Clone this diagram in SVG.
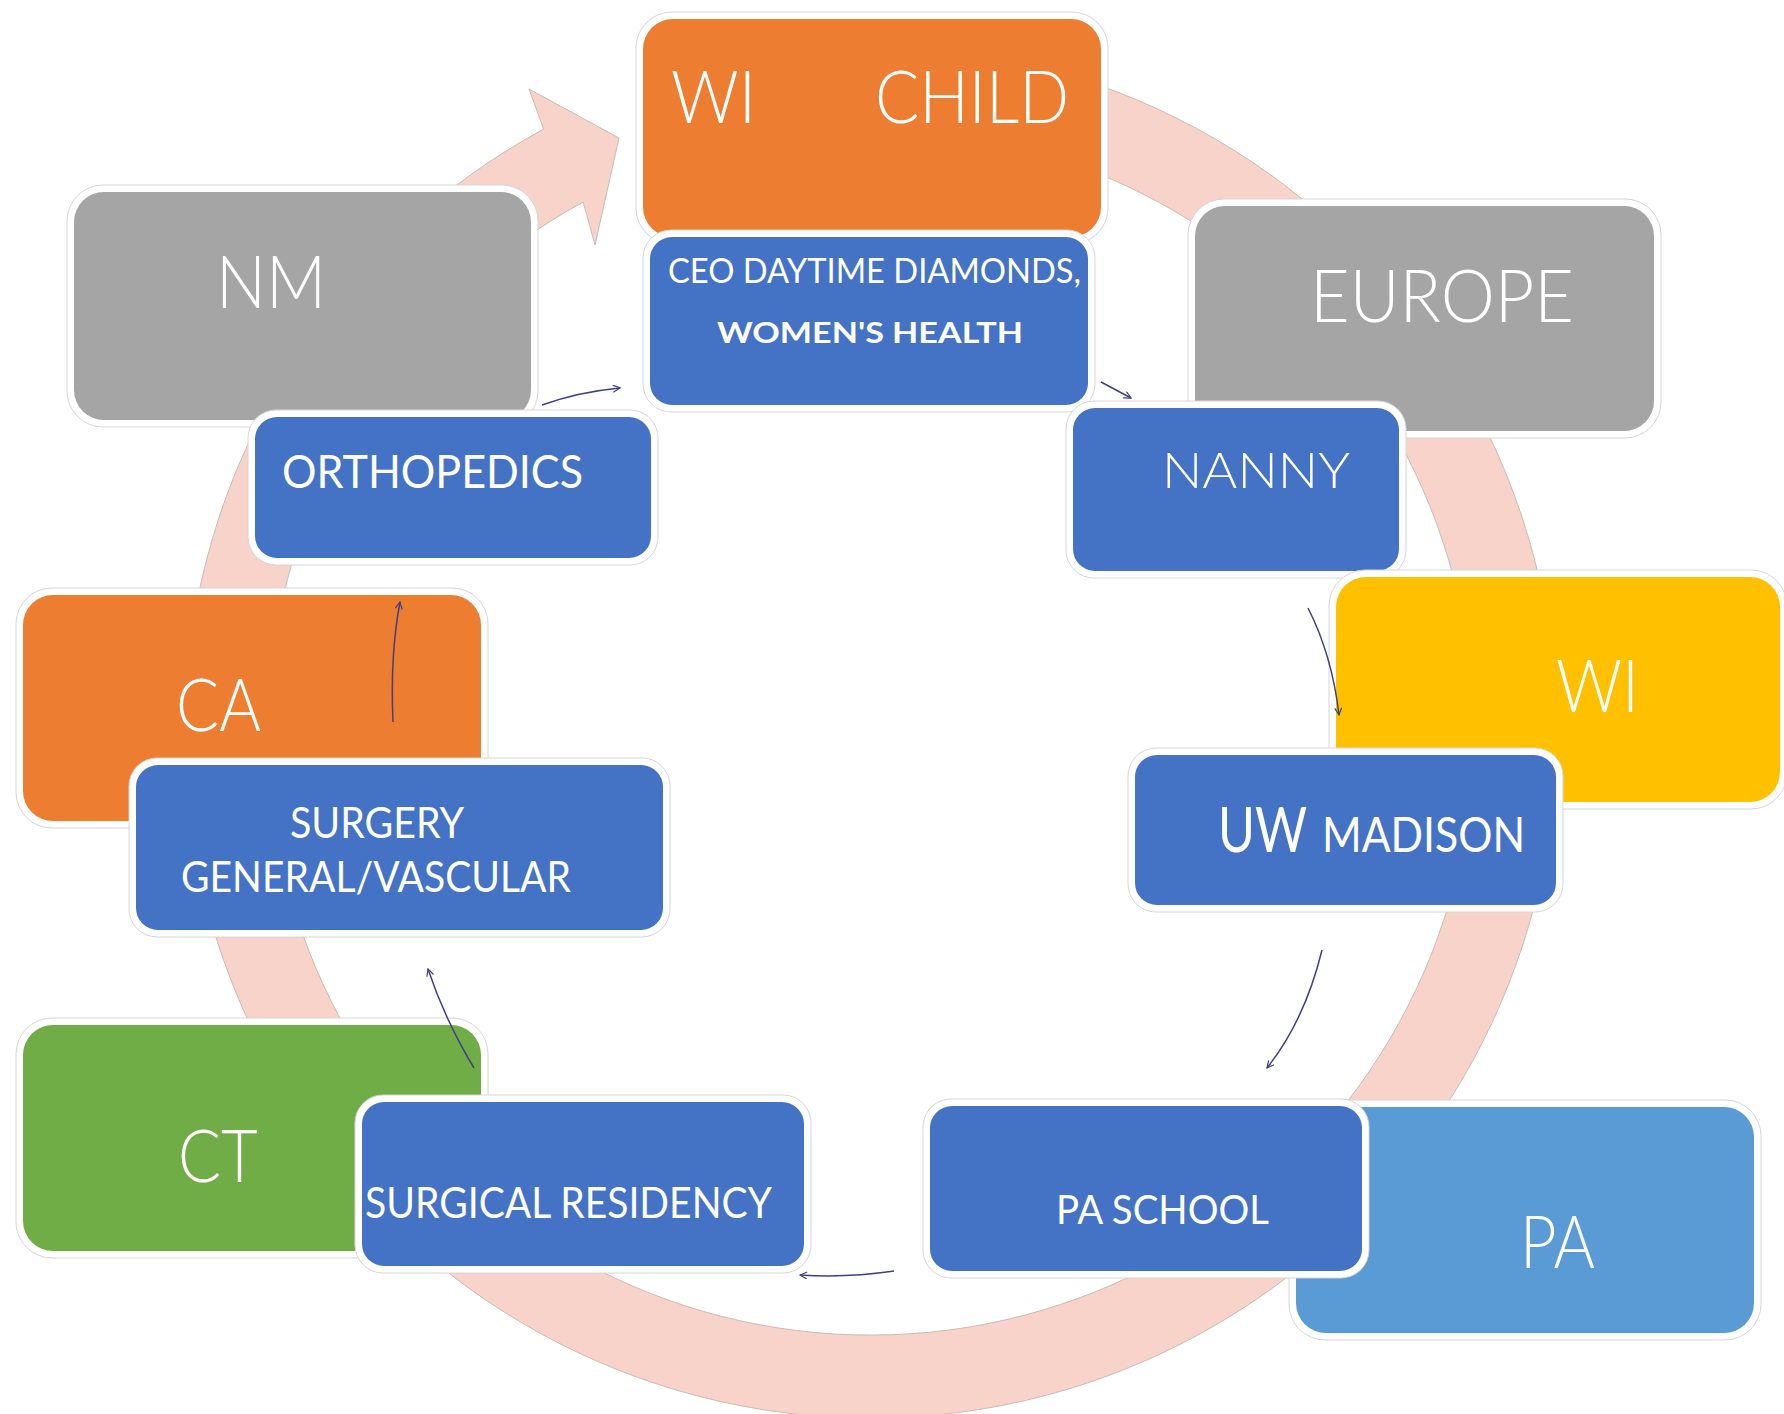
<svg xmlns="http://www.w3.org/2000/svg" width="1784" height="1414" viewBox="0 0 1784 1414">
<defs>
<style>
.frame{fill:#ffffff;stroke:#d6d6d6;stroke-width:1}
.orange{fill:#ED7D31}
.blue{fill:#4472C4}
.gray{fill:#A5A5A5}
.yellow{fill:#FFC000}
.green{fill:#70AD47}
.lblue{fill:#5B9BD5}
.big{font-family:Lato,"Open Sans","Liberation Sans",sans-serif;font-weight:300;font-size:72px;fill:#ffffff}
.lab{font-family:Lato,"Open Sans","Liberation Sans",sans-serif;font-weight:400;fill:#ffffff}
.bold{font-weight:700}
.conn{fill:none;stroke:#3f3f88;stroke-width:1.5}
.ring{fill:#f7d3c9;stroke:#cdbab3;stroke-width:1}
</style>
<marker id="ah" markerWidth="10" markerHeight="10" refX="8" refY="4" orient="auto" markerUnits="userSpaceOnUse">
<path d="M1,0.5 L8,4 L1,7.5" fill="none" stroke="#3f3f88" stroke-width="1.2"/>
</marker>
</defs>
<rect width="1784" height="1414" fill="#ffffff"/>

<g id="cycle-arrow">
<path class="ring" d="M693.5,69.4 A686,686 0 1 1 543.6,129.1 L529,89 L619,138 L595,245 L583.2,202.1 A603,603 0 1 0 714.9,149.6 Z"/>
</g>

<g id="node-wi-child">
<rect class="frame" x="636" y="12" width="472" height="232" rx="36"/>
<rect class="orange" x="643" y="19" width="458" height="218" rx="30"/>
<text class="big" x="671" y="123" textLength="85" lengthAdjust="spacingAndGlyphs">WI</text>
<text class="big" x="875" y="123" textLength="194" lengthAdjust="spacingAndGlyphs">CHILD</text>
</g>
<g id="node-ceo">
<rect class="frame" x="643" y="230" width="452" height="182" rx="28"/>
<rect class="blue" x="650" y="237" width="438" height="168" rx="22"/>
<text class="lab" x="668" y="283" font-size="35" textLength="413" lengthAdjust="spacingAndGlyphs">CEO DAYTIME DIAMONDS,</text>
<text class="lab bold" x="717" y="343" font-size="29" textLength="306" lengthAdjust="spacingAndGlyphs">WOMEN'S HEALTH</text>
</g>

<g id="node-nm">
<rect class="frame" x="67" y="185" width="471" height="242" rx="36"/>
<rect class="gray" x="74" y="192" width="457" height="228" rx="30"/>
<text class="big" x="216" y="308" textLength="110" lengthAdjust="spacingAndGlyphs">NM</text>
</g>
<g id="node-orthopedics">
<rect class="frame" x="248" y="410" width="410" height="155" rx="28"/>
<rect class="blue" x="255" y="417" width="396" height="141" rx="22"/>
<text class="lab" x="282" y="488" font-size="46" textLength="301" lengthAdjust="spacingAndGlyphs">ORTHOPEDICS</text>
</g>

<g id="node-europe">
<rect class="frame" x="1188" y="199" width="473" height="239" rx="36"/>
<rect class="gray" x="1195" y="206" width="459" height="225" rx="30"/>
<text class="big" x="1310" y="322" textLength="264" lengthAdjust="spacingAndGlyphs">EUROPE</text>
</g>
<g id="node-nanny">
<rect class="frame" x="1066" y="401" width="340" height="177" rx="28"/>
<rect class="blue" x="1073" y="408" width="326" height="163" rx="22"/>
<text class="lab" x="1162" y="488" font-size="50" font-weight="300" style="font-weight:300" textLength="188" lengthAdjust="spacingAndGlyphs">NANNY</text>
</g>

<g id="node-wi">
<rect class="frame" x="1329" y="570" width="458" height="239" rx="36"/>
<rect class="yellow" x="1336" y="577" width="444" height="225" rx="30"/>
<text class="big" x="1556" y="712" textLength="83" lengthAdjust="spacingAndGlyphs">WI</text>
</g>
<g id="node-uw-madison">
<rect class="frame" x="1128" y="748" width="435" height="164" rx="28"/>
<rect class="blue" x="1135" y="755" width="421" height="150" rx="22"/>
<text class="lab" x="1218" y="852" font-size="61" textLength="89" lengthAdjust="spacingAndGlyphs">UW</text>
<text class="lab" x="1322" y="852" font-size="49" textLength="203" lengthAdjust="spacingAndGlyphs">MADISON</text>
</g>

<g id="node-ca">
<rect class="frame" x="16" y="588" width="472" height="240" rx="36"/>
<rect class="orange" x="23" y="595" width="458" height="226" rx="30"/>
<text class="big" x="176" y="731" textLength="85" lengthAdjust="spacingAndGlyphs">CA</text>
</g>
<g id="node-surgery">
<rect class="frame" x="129" y="758" width="541" height="179" rx="28"/>
<rect class="blue" x="136" y="765" width="527" height="165" rx="22"/>
<text class="lab" x="290" y="838" font-size="42" textLength="174" lengthAdjust="spacingAndGlyphs">SURGERY</text>
<text class="lab" x="181" y="892" font-size="42" textLength="390" lengthAdjust="spacingAndGlyphs">GENERAL/VASCULAR</text>
</g>

<g id="node-ct">
<rect class="frame" x="16" y="1018" width="472" height="240" rx="36"/>
<rect class="green" x="23" y="1025" width="458" height="226" rx="30"/>
<text class="big" x="178" y="1182" textLength="80" lengthAdjust="spacingAndGlyphs">CT</text>
</g>
<g id="node-surgical-residency">
<rect class="frame" x="355" y="1095" width="456" height="178" rx="28"/>
<rect class="blue" x="362" y="1102" width="442" height="164" rx="22"/>
<text class="lab" x="365" y="1218" font-size="42" textLength="407" lengthAdjust="spacingAndGlyphs">SURGICAL RESIDENCY</text>
</g>

<g id="node-pa">
<rect class="frame" x="1289" y="1100" width="472" height="240" rx="36"/>
<rect class="lblue" x="1296" y="1107" width="458" height="226" rx="30"/>
<text class="big" x="1520" y="1268" textLength="75" lengthAdjust="spacingAndGlyphs">PA</text>
</g>
<g id="node-pa-school">
<rect class="frame" x="923" y="1099" width="446" height="179" rx="28"/>
<rect class="blue" x="930" y="1106" width="432" height="165" rx="22"/>
<text class="lab" x="1056" y="1224" font-size="40" textLength="213" lengthAdjust="spacingAndGlyphs">PA SCHOOL</text>
</g>

<g id="connectors">
<path class="conn" marker-end="url(#ah)" d="M542,405 Q578,392 620,388"/>
<path class="conn" marker-end="url(#ah)" d="M1101,382 L1131,398"/>
<path class="conn" marker-end="url(#ah)" d="M1308,608 Q1332,655 1339,715"/>
<path class="conn" marker-end="url(#ah)" d="M1322,950 Q1305,1020 1267,1068"/>
<path class="conn" marker-end="url(#ah)" d="M894,1271 Q847,1278 800,1275"/>
<path class="conn" marker-end="url(#ah)" d="M474,1068 Q445,1020 428,969"/>
<path class="conn" marker-end="url(#ah)" d="M393,722 Q390,655 400,602"/>
</g>
</svg>
